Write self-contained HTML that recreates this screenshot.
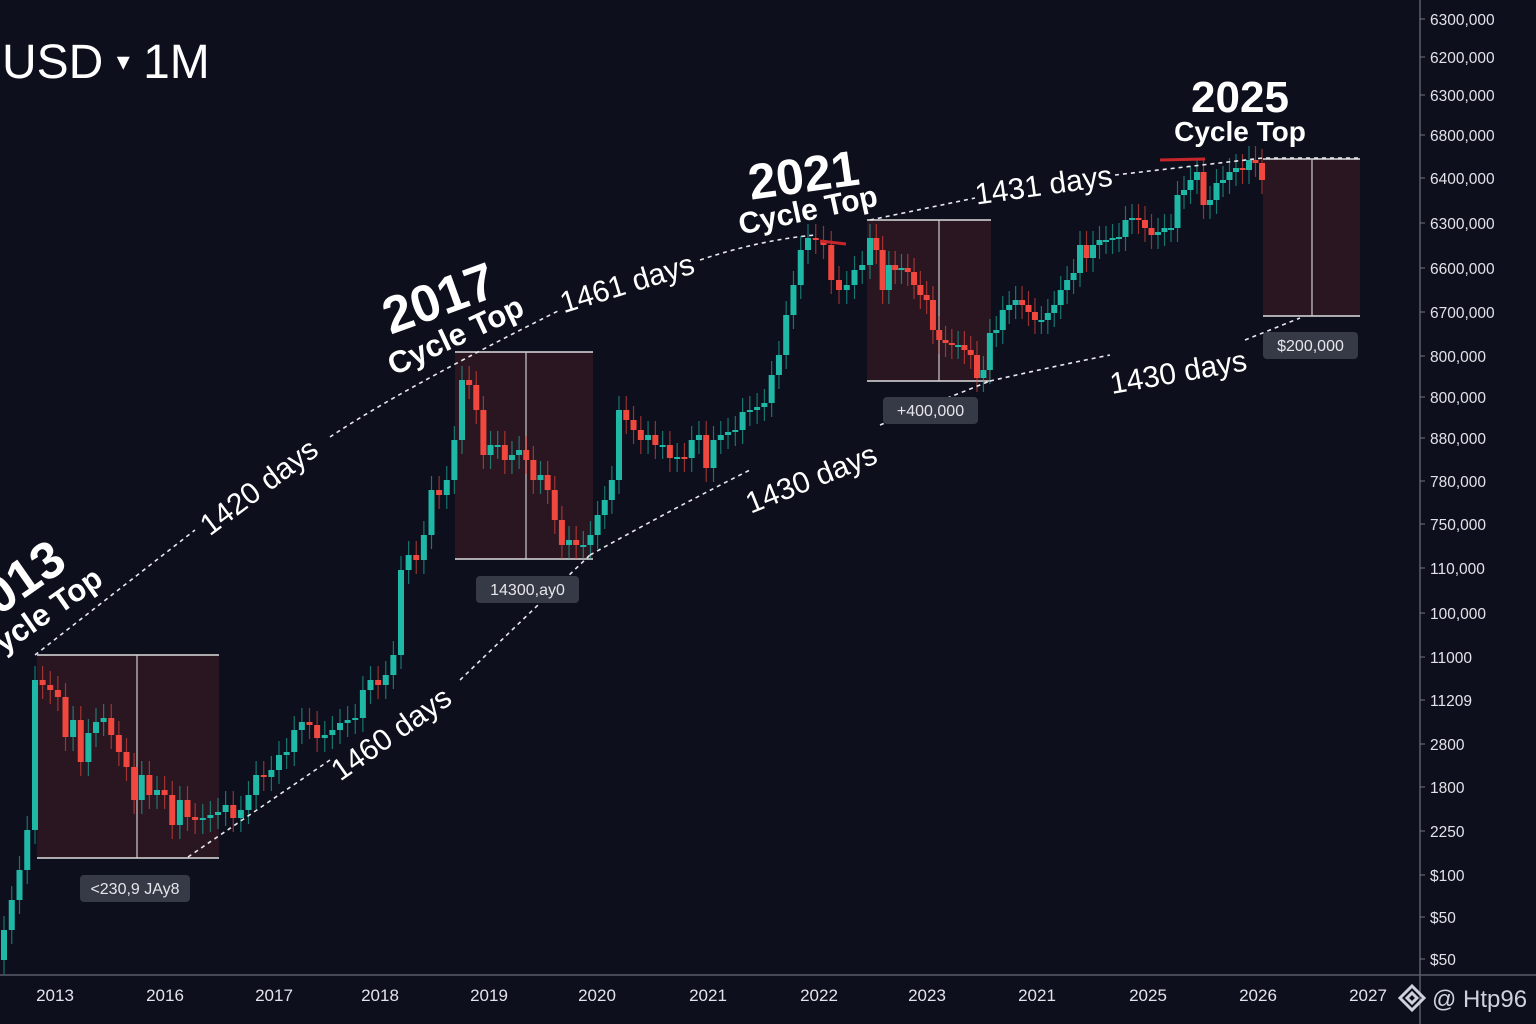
<!DOCTYPE html>
<html><head><meta charset="utf-8"><style>
html,body{margin:0;padding:0;background:#0d0f1c;}
svg{display:block;font-family:"Liberation Sans",sans-serif;}
</style></head><body>
<svg id="chart" width="1536" height="1024" viewBox="0 0 1536 1024">
<rect width="1536" height="1024" fill="#0d0f1c"/>
<g id="boxes"></g>
<g id="candles"></g>
<g id="lines" stroke="#e8e8ee" stroke-width="1.6" stroke-dasharray="4 4" fill="none"></g>
<g id="labels"></g>
<line x1="1420" y1="0" x2="1420" y2="1024" stroke="#5a5d6a" stroke-width="1.5"/>
<line x1="0" y1="975" x2="1536" y2="975" stroke="#5a5d6a" stroke-width="1.5"/>
<g id="yaxis"></g>
<g id="xaxis"></g>
<text x="2" y="78" fill="#fff" font-size="48">USD <tspan font-size="26" dy="-8">▾</tspan><tspan dy="8"> 1M</tspan></text>
<g>
<path d="M1412 986 l12 12 l-12 12 l-12 -12z M1412 993 l5 5 l-5 5 l-5 -5z" fill="none" stroke="#cfd2dc" stroke-width="3"/>
<text x="1432" y="1007" fill="#cfd2dc" font-size="24">@ Htp96</text>
</g>
</svg>
<script>
const NS="http://www.w3.org/2000/svg";
// monthly closes in log10(USD)
const closes=[1.15,1.30,1.45,1.65,2.40,2.375,2.35,2.315,2.115,2.20,1.99,2.135,2.19,2.21,2.125,2.04,1.965,1.80,1.925,1.825,1.85,1.825,1.675,1.80,1.715,1.70,1.71,1.725,1.74,1.775,1.71,1.75,1.825,1.925,1.915,1.95,2.025,2.04,2.15,2.19,2.175,2.11,2.125,2.15,2.185,2.20,2.21,2.35,2.40,2.375,2.425,2.525,2.95,3.025,3.00,3.125,3.35,3.325,3.40,3.60,3.90,3.875,3.75,3.525,3.575,3.575,3.50,3.525,3.55,3.50,3.40,3.425,3.35,3.20,3.075,3.10,3.075,3.075,3.125,3.225,3.30,3.40,3.75,3.70,3.65,3.60,3.625,3.575,3.575,3.51,3.515,3.51,3.60,3.625,3.46,3.60,3.625,3.64,3.65,3.74,3.75,3.765,3.785,3.925,4.025,4.225,4.375,4.55,4.61,4.60,4.575,4.40,4.35,4.375,4.45,4.475,4.61,4.55,4.35,4.475,4.45,4.46,4.44,4.375,4.325,4.30,4.15,4.10,4.085,4.075,4.075,4.05,4.025,3.91,3.95,4.135,4.15,4.25,4.275,4.30,4.275,4.24,4.20,4.20,4.235,4.275,4.35,4.40,4.435,4.575,4.51,4.575,4.60,4.60,4.61,4.615,4.70,4.71,4.70,4.66,4.625,4.64,4.66,4.66,4.825,4.85,4.90,4.94,4.775,4.80,4.885,4.90,4.94,4.96,4.95,5.00,4.985,4.90];
const firstOpen=1.0;
const yTickLabels=["6300,000","6200,000","6300,000","6800,000","6400,000","6300,000","6600,000","6700,000","800,000","800,000","880,000","780,000","750,000","110,000","100,000","11000","11209","2800","1800","2250","$100","$50","$50"];
const xTickLabels=["2013","2016","2017","2018","2019","2020","2021","2022","2023","2021","2025","2026","2027"];

// axis calibration (time axis is irregular in the source image)
const anchorIdx=[0,4,60,82,108,116,133,149,177];
const anchorX=[4,35,462,619,808,870,977,1080,1262];
const yTickPos=[19,57,95,135,178,223,268,312,356,397,438,481,524,568,613,657,700,744,787,831,875,917,959];
const xTickPos=[55,165,274,380,489,597,708,819,927,1037,1148,1258,1368];

const yScale=v=>(5.8-v)*200;
function xScale(i){
  for(let k=1;k<anchorIdx.length;k++){
    if(i<=anchorIdx[k]){const a=anchorIdx[k-1],b=anchorIdx[k];return anchorX[k-1]+(i-a)/(b-a)*(anchorX[k]-anchorX[k-1]);}
  }
  return anchorX[anchorX.length-1];
}
function el(tag,attrs,parent){const e=document.createElementNS(NS,tag);for(const k in attrs)e.setAttribute(k,attrs[k]);parent.appendChild(e);return e;}

const cg=document.getElementById('candles');
closes.forEach((c,i)=>{
  const o=i===0?firstOpen:closes[i-1];
  const up=c>=o;const col=up?"#1fb8a6":"#f0483e";
  const x=xScale(i);
  const hi=Math.max(o,c)+0.07,lo=Math.min(o,c)-0.07;
  const w=el('line',{x1:x,x2:x,y1:yScale(hi),y2:yScale(lo),stroke:col,'stroke-width':1.2,opacity:0.6},cg);
  
  
  const top=yScale(Math.max(o,c)),h=Math.max(2,yScale(Math.min(o,c))-top);
  const b=el('rect',{x:x-3,y:top,width:6,height:h,fill:col},cg);
  
  
});

const bg=document.getElementById('boxes');
[[37,655,219,858,137],[455,352,593,559,526],[867,220,991,381,939],[1263,159,1360,316,1312]].forEach(b=>{
  const r=el('rect',{x:b[0],y:b[1],width:b[2]-b[0],height:b[3]-b[1],fill:"#2a1620"},bg);
  
  
  el('line',{x1:b[0],x2:b[2],y1:b[1],y2:b[1],stroke:"#ddd",'stroke-width':1.5},bg);
  el('line',{x1:b[0],x2:b[2],y1:b[3],y2:b[3],stroke:"#ddd",'stroke-width':1.5},bg);
  el('line',{x1:b[4],x2:b[4],y1:b[1],y2:b[3],stroke:"#ccc",'stroke-width':1.2},bg);
});

const lg=document.getElementById('lines');
["M35 655 L195 530","M330 437 Q400 390 560 310","M700 260 Q760 240 815 235","M870 220 L975 198","M1115 175 L1263 158 L1360 158",
 "M188 857 L330 760","M460 680 L590 555","M590 555 Q680 505 750 470","M880 425 L990 381","M990 381 Q1060 365 1110 355","M1245 340 L1300 318"].forEach(d=>{
  const p=el('path',{d:d},lg);
  
  
});

const lab=document.getElementById('labels');
function txt(s,x,y,rot,size,weight,name,anchor){
  const t=el('text',{x:x,y:y,fill:"#fff",'font-size':size,'font-weight':weight||'normal','text-anchor':anchor||'middle',transform:`rotate(${rot} ${x} ${y})`},lab);
  t.textContent=s;
  
  
}
txt("1420 days",265,495,-37,30,'normal','days-label-1420');
txt("1461 days",630,293,-17,30,'normal','days-label-1461');
txt("1431 days",1045,195,-8,30,'normal','days-label-1431');
txt("1460 days",397,742,-35,30,'normal','days-label-1460');
txt("1430 days",815,488,-22,30,'normal','days-label-1430-a');
txt("1430 days",1180,382,-10,30,'normal','days-label-1430-b');
txt("2013",22,600,-35,52,'bold','cycle-top-2013-year');
txt("Cycle Top",45,625,-35,31,'bold','cycle-top-2013-text');
txt("2017",445,315,-20,52,'bold','cycle-top-2017-year');
txt("Cycle Top",460,345,-25,31,'bold','cycle-top-2017-text');
txt("2021",806,192,-8,50,'bold','cycle-top-2021-year');
txt("Cycle Top",810,220,-12,30,'bold','cycle-top-2021-text');
txt("2025",1240,112,0,44,'bold','cycle-top-2025-year');
txt("Cycle Top",1240,141,0,28,'bold','cycle-top-2025-text');
el('line',{x1:1160,y1:160,x2:1205,y2:159,stroke:"#c8262a",'stroke-width':3},lab);
el('line',{x1:820,y1:241,x2:846,y2:244,stroke:"#c8262a",'stroke-width':3},lab);
[[80,875,110,"<230,9 JAy8"],[476,576,103,"14300,ay0"],[883,397,95,"+400,000"],[1263,332,95,"$200,000"]].forEach(b=>{
  const r=el('rect',{x:b[0],y:b[1],width:b[2],height:27,rx:4,fill:"#363a46"},lab);
  
  
  const t=el('text',{x:b[0]+b[2]/2,y:b[1]+19,fill:"#e6e6ea",'font-size':16,'text-anchor':'middle'},lab);
  t.textContent=b[3];
  
  
});

const ya=document.getElementById('yaxis');
yTickLabels.forEach((s,i)=>{
  el('line',{x1:1420,x2:1425,y1:yTickPos[i],y2:yTickPos[i],stroke:"#777"},ya);
  const t=el('text',{x:1430,y:yTickPos[i]+6,fill:"#e2e3ea",'font-size':15.5},ya);
  t.textContent=s;
  
  
});
const xa=document.getElementById('xaxis');
xTickLabels.forEach((s,i)=>{
  const t=el('text',{x:xTickPos[i],y:1001,fill:"#e2e3ea",'font-size':17,'text-anchor':'middle'},xa);
  t.textContent=s;
  
  
});
</script>
</body></html>
